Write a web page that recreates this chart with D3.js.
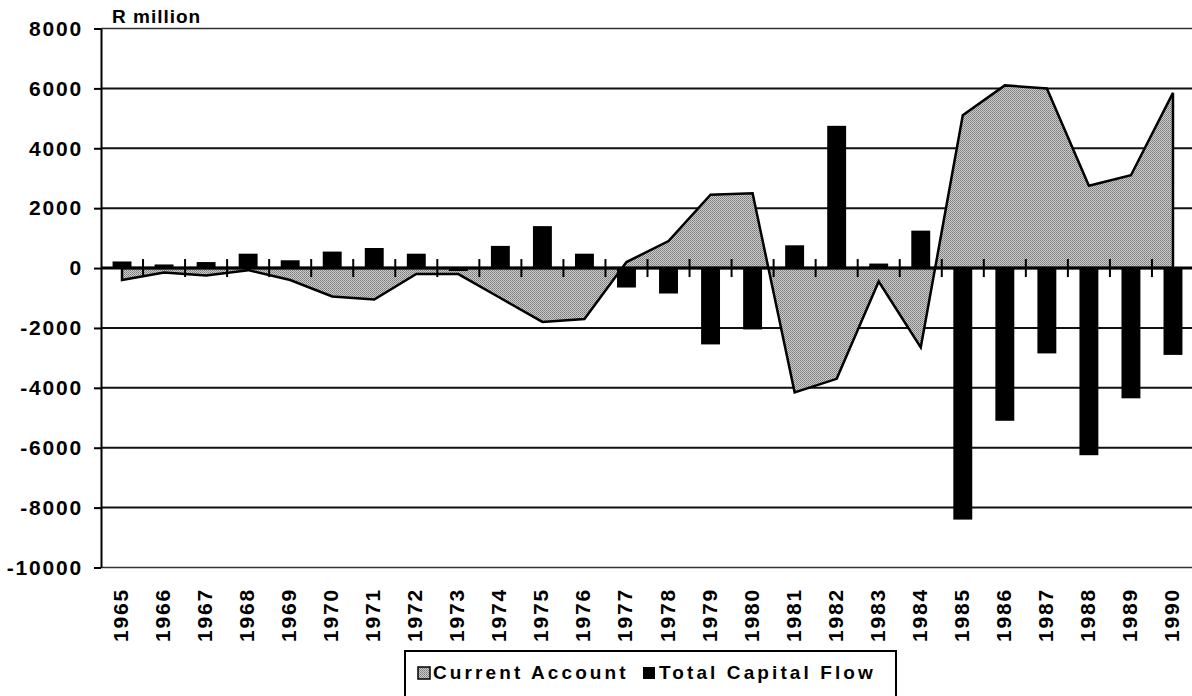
<!DOCTYPE html>
<html>
<head>
<meta charset="utf-8">
<script src="https://cdn.jsdelivr.net/npm/d3@7"></script>
<style>
  body { margin: 0; background: #fff; }
  #graph { width: 1192px; height: 696px; }
  text { font-family: "Liberation Sans", Arial, sans-serif; font-weight: bold; fill: #000; }
</style>
</head>
<body>
<div id="graph"></div>
<script>
var years = [1965, 1966, 1967, 1968, 1969, 1970, 1971, 1972, 1973, 1974, 1975, 1976, 1977,
             1978, 1979, 1980, 1981, 1982, 1983, 1984, 1985, 1986, 1987, 1988, 1989, 1990];
var currentAccount = [-400, -150, -250, -70, -400, -950, -1050, -200, -200, -1000, -1800, -1700, 200,
                      900, 2450, 2500, -4150, -3700, -450, -2650, 5100, 6100, 6000, 2750, 3100, 5850];
var capitalFlow = [220, 120, 200, 480, 260, 550, 670, 480, -100, 740, 1400, 480, -650,
                   -850, -2550, -2050, 760, 4750, 150, 1250, -8400, -5100, -2850, -6250, -4350, -2900];
var yTicks = [-10000, -8000, -6000, -4000, -2000, 0, 2000, 4000, 6000, 8000];
var legendLabels = ["Current Account", "Total Capital Flow"];

function drawGraph() {
    var width = 1192, height = 696;
    var left = 101, right = 1194, top = 28.5, bottom = 567.5;

    var svg = d3.select("#graph")
        .append("svg")
        .attr("width", width)
        .attr("height", height);

    // stippled fill for the area
    var pat = svg.append("defs").append("pattern")
        .attr("id", "stip")
        .attr("patternUnits", "userSpaceOnUse")
        .attr("width", 2)
        .attr("height", 2);
    pat.append("rect").attr("width", 2).attr("height", 2).attr("fill", "#cdcdcd");
    pat.append("rect").attr("x", 0).attr("y", 0).attr("width", 1).attr("height", 1).attr("fill", "#787878");
    pat.append("rect").attr("x", 1).attr("y", 1).attr("width", 1).attr("height", 1).attr("fill", "#8e8e8e");

    var x = d3.scaleBand()
        .domain(years)
        .range([left, right])
        .paddingInner(0.55)
        .paddingOuter(0.275);
    var step = x.step();
    var cx = d => x(d) + x.bandwidth() / 2;

    var y = d3.scaleLinear()
        .domain([-10000, 8000])
        .range([bottom, top]);

    // Gridlines
    svg.append("g")
        .selectAll("line")
        .data(yTicks.filter(d => d !== 0))
        .enter()
        .append("line")
        .attr("x1", left)
        .attr("x2", width)
        .attr("y1", d => y(d))
        .attr("y2", d => y(d))
        .attr("stroke", d => (d === 8000 || d === -10000) ? "#333" : "#111")
        .attr("stroke-width", d => (d === 8000 || d === -10000) ? 1.5 : 2);

    // Current account area
    var area = d3.area()
        .x((d, i) => cx(years[i]))
        .y0(y(0))
        .y1(d => y(d));
    svg.append("path")
        .datum(currentAccount)
        .attr("d", area)
        .attr("fill", "url(#stip)")
        .attr("stroke", "#000")
        .attr("stroke-width", 2.5)
        .attr("stroke-linejoin", "miter");

    // Capital flow bars
    svg.append("g")
        .selectAll("rect")
        .data(capitalFlow)
        .enter()
        .append("rect")
        .attr("x", (d, i) => x(years[i]))
        .attr("width", x.bandwidth())
        .attr("y", d => y(Math.max(0, d)))
        .attr("height", d => Math.abs(y(d) - y(0)))
        .attr("fill", "#000");

    // Zero axis with category ticks
    svg.append("line")
        .attr("x1", left)
        .attr("x2", width)
        .attr("y1", y(0))
        .attr("y2", y(0))
        .attr("stroke", "#000")
        .attr("stroke-width", 3);
    svg.append("g")
        .selectAll("line")
        .data(years.slice(1))
        .enter()
        .append("line")
        .attr("x1", d => x(d) - (step - x.bandwidth()) / 2)
        .attr("x2", d => x(d) - (step - x.bandwidth()) / 2)
        .attr("y1", y(0) - 9)
        .attr("y2", y(0) + 9)
        .attr("stroke", "#000")
        .attr("stroke-width", 2);

    // Y axis
    var yAxis = d3.axisLeft(y)
        .tickValues(yTicks)
        .tickSize(7)
        .tickSizeOuter(0)
        .tickPadding(11)
        .tickFormat(d => String(d));
    var ga = svg.append("g")
        .attr("transform", "translate(" + left + ",0)")
        .call(yAxis);
    ga.select(".domain").attr("stroke", "#000").attr("stroke-width", 2);
    ga.selectAll(".tick line").attr("stroke", "#000").attr("stroke-width", 2);
    ga.selectAll(".tick text")
        .attr("font-family", "Liberation Sans, Arial, sans-serif")
        .attr("font-weight", "bold")
        .attr("font-size", "21px")
        .attr("letter-spacing", "1.8px")
        .attr("fill", "#000");

    svg.append("text")
        .attr("x", 112)
        .attr("y", 23)
        .attr("font-size", "19px")
        .attr("letter-spacing", "1px")
        .text("R million");

    // X labels
    svg.append("g")
        .selectAll("text")
        .data(years)
        .enter()
        .append("text")
        .attr("transform", d => "translate(" + (cx(d) + 6) + ",642) rotate(-90)")
        .attr("font-size", "21px")
        .attr("letter-spacing", "1.8px")
        .attr("text-anchor", "start")
        .text(d => d);

    // Legend
    svg.append("rect")
        .attr("x", 405)
        .attr("y", 651)
        .attr("width", 491)
        .attr("height", 60)
        .attr("fill", "#fff")
        .attr("stroke", "#000")
        .attr("stroke-width", 2);
    svg.append("rect")
        .attr("x", 418).attr("y", 667).attr("width", 12).attr("height", 12)
        .attr("fill", "url(#stip)").attr("stroke", "#000").attr("stroke-width", 1.5);
    svg.append("text")
        .attr("x", 433).attr("y", 679)
        .attr("font-size", "19px")
        .attr("letter-spacing", "3.1px")
        .text(legendLabels[0]);
    svg.append("rect")
        .attr("x", 643).attr("y", 667).attr("width", 12).attr("height", 12)
        .attr("fill", "#000");
    svg.append("text")
        .attr("x", 659).attr("y", 679)
        .attr("font-size", "19px")
        .attr("letter-spacing", "3.1px")
        .text(legendLabels[1]);
}

drawGraph();
</script>
</body>
</html>
